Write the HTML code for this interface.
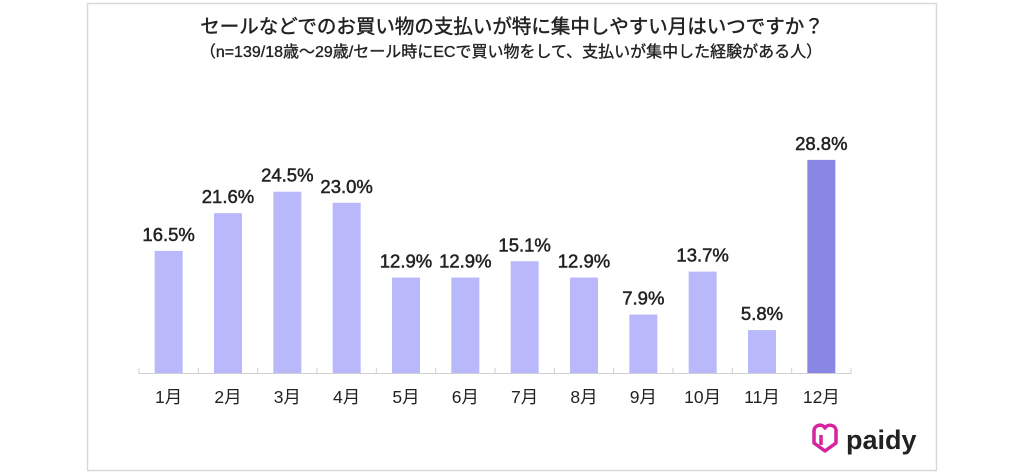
<!DOCTYPE html>
<html><head><meta charset="utf-8"><style>
body{margin:0;width:1024px;height:472px;background:#fff;overflow:hidden}
svg{display:block}
text{font-family:"Liberation Sans","Noto Sans CJK JP",sans-serif}
</style></head><body>
<svg width="1024" height="472" viewBox="0 0 1024 472">
<rect x="87.5" y="3.5" width="849" height="467" fill="#fff" stroke="#d9d9d9" stroke-width="1.5"/>
<text x="512" y="33" text-anchor="middle" font-size="19.5" fill="#222" stroke="#222" stroke-width="0.45">セールなどでのお買い物の支払いが特に集中しやすい月はいつですか？</text>
<text x="511" y="57" text-anchor="middle" font-size="16" fill="#222" stroke="#222" stroke-width="0.35">（n=139/18歳～29歳/セール時にECで買い物をして、支払いが集中した経験がある人）</text>
<g id="bars"></g>
<line x1="139" y1="373.5" x2="851" y2="373.5" stroke="#d0d0d0" stroke-width="1"/>
<g id="ticks" stroke="#d0d0d0"></g>
<g transform="translate(810,425)">
<path d="M4 6 C4 0 12 -2 15 3 C18 -2 27 0 26 7 L26 18 L15 26 L4 18 Z" fill="none" stroke="#d6249f" stroke-width="3.5" stroke-linejoin="round"/>
<path d="M11 10 L11 20" stroke="#d6249f" stroke-width="3.5"/>
<text x="36" y="24" font-size="27" font-weight="bold" fill="#222">paidy</text>
</g>
</svg>
<script>
const v=[16.5,21.6,24.5,23.0,12.9,12.9,15.1,12.9,7.9,13.7,5.8,28.8];
const w=(851-139)/12,base=373,k=7.4;
let h='';
v.forEach((d,i)=>{const cx=139+w*(i+0.5),y=base-d*k;
h+=`<rect x="${cx-14}" y="${y}" width="28" height="${d*k}" fill="${i==11?'#8a86e4':'#b8b8fa'}"/>`;
h+=`<text x="${cx}" y="${y-10}" text-anchor="middle" font-size="18.5" fill="#222" stroke="#222" stroke-width="0.5">${d.toFixed(1)}%</text>`;
h+=`<text x="${cx}" y="403" text-anchor="middle" font-size="17.5" fill="#222">${i+1}月</text>`;});
document.getElementById('bars').innerHTML=h;
let t='';for(let i=0;i<=12;i++){const x=139+w*i;t+=`<line x1="${x}" y1="368" x2="${x}" y2="374"/>`;}
document.getElementById('ticks').innerHTML=t;
</script>
</body></html>
